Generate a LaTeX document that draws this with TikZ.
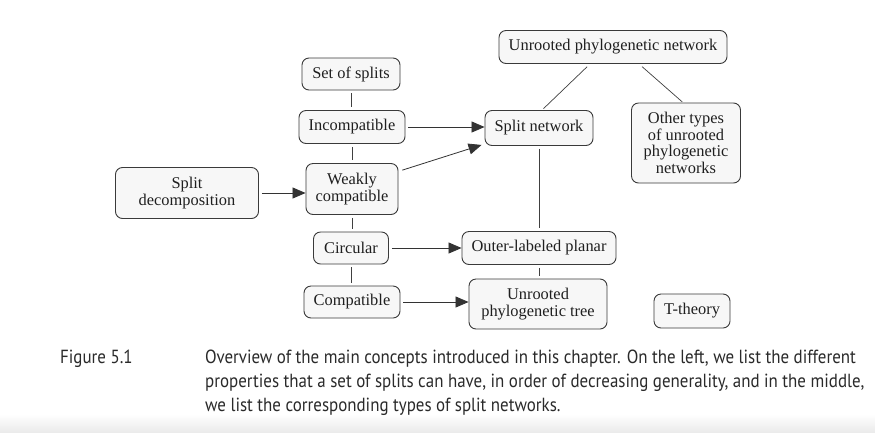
\documentclass[tikz,border=0pt]{standalone}
\usepackage{fontspec}
\setmainfont{Liberation Serif}
\newfontfamily\capfont{PT Sans}
\usetikzlibrary{arrows.meta,calc}
\definecolor{boxfill}{HTML}{F7F7F7}
\definecolor{boxline}{HTML}{3A3A3A}
\definecolor{captext}{HTML}{2A2A2A}
\newcommand{\captionline}[1]{\scalebox{0.891}[1]{#1}}
\tikzset{
  box/.style={draw=boxline, fill=boxfill, line width=0.9pt, rounded corners=7pt,
    align=center, inner sep=0pt, font=\fontsize{16.4}{16.7}\selectfont, text=black!88},
  link/.style={draw=black!75, line width=0.7pt, shorten <=3pt, shorten >=3pt},
  arr/.style={draw=black!80, line width=0.8pt, shorten <=3pt, -{Triangle[length=13pt,width=11pt]}},
  captxt/.style={anchor=base west, inner sep=0pt, text=captext, font=\capfont\fontsize{19}{22}\selectfont}
}
\begin{document}
\begin{tikzpicture}[x=1pt,y=-1pt]
\useasboundingbox (0,0) rectangle (875,432);
\fill[white] (0,0) rectangle (875,432);
\shade[top color=white, bottom color=black!8] (0,414) rectangle (875,432);

\node[box, minimum width=98pt, minimum height=32pt] (sets) at (351,74) {Set of splits};
\node[box, minimum width=106pt, minimum height=33pt] (incomp) at (352,127) {Incompatible};
\node[box, minimum width=92pt, minimum height=51pt] (weakly) at (352,189) {Weakly\\compatible};
\node[box, minimum width=143pt, minimum height=51pt] (splitdec) at (187,193) {Split\\decomposition};
\node[box, minimum width=75pt, minimum height=32pt] (circ) at (351,248) {Circular};
\node[box, minimum width=96pt, minimum height=32pt] (compat) at (352,302) {Compatible};
\node[box, minimum width=108pt, minimum height=35pt] (splitnet) at (539,128) {Split network};
\node[box, minimum width=228pt, minimum height=33pt] (unrnet) at (613,47) {Unrooted phylogenetic network};
\node[box, minimum width=109pt, minimum height=80pt] (other) at (686,143) {Other types\\of unrooted\\phylogenetic\\networks};
\node[box, minimum width=154pt, minimum height=33pt] (outer) at (539,248) {Outer-labeled planar};
\node[box, minimum width=138pt, minimum height=50pt] (tree) at (538,304) {Unrooted\\phylogenetic tree};
\node[box, minimum width=76pt, minimum height=34pt] (tth) at (692,311) {T-theory};

% vertical property chain
\draw[link] (sets.south) -- (sets.south |- incomp.north);
\draw[link] (incomp.south) -- (incomp.south |- weakly.north);
\draw[link] (weakly.south) -- (weakly.south |- circ.north);
\draw[link] (circ.south) -- (circ.south |- compat.north);

% network chain
\draw[link] (splitnet.south) -- (splitnet.south |- outer.north);
\draw[link] (outer.south) -- (outer.south |- tree.north);
\draw[link, shorten <=4pt, shorten >=2pt] ($(unrnet.south)+(-23,0)$) -- ($(splitnet.north)+(3,0)$);
\draw[link, shorten <=4pt, shorten >=1pt] ($(unrnet.south)+(26,0)$) -- ($(other.north)+(-3,0)$);

% arrows
\draw[arr] (splitdec.east) -- (weakly.west |- splitdec.east);
\draw[arr] (incomp.east) -- (splitnet.west |- incomp.east);
\draw[arr] ($(weakly.north east)+(1,8)$) -- ($(splitnet.south west)+(-3,-1)$);
\draw[arr] (circ.east) -- (outer.west |- circ.east);
\draw[arr] (compat.east) -- ($(tree.west)+(0,-2)$);

% caption
\node[captxt] (figlbl) at (60,363) {\captionline{Figure 5.1}};
\node[captxt] (cap1) at (205,363) {\captionline{Overview of the main concepts introduced in this chapter. On the left, we list the different}};
\node[captxt] (cap2) at (205,387) {\captionline{properties that a set of splits can have, in order of decreasing generality, and in the middle,}};
\node[captxt] (cap3) at (205,411) {\captionline{we list the corresponding types of split networks.}};
\end{tikzpicture}
\end{document}
